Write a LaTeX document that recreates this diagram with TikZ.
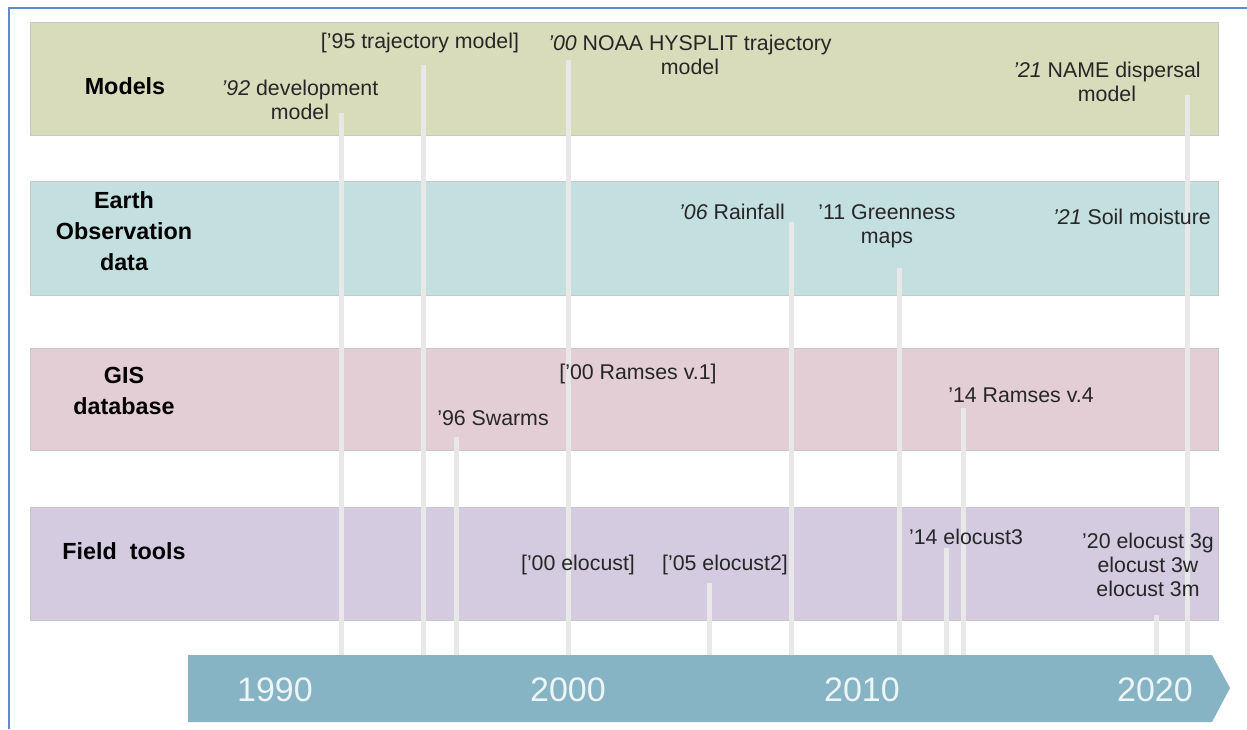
\documentclass[tikz,border=0pt]{standalone}
\usepackage{fontspec}
\setmainfont{Liberation Sans}
\definecolor{modelsfill}{RGB}{217,220,186}
\definecolor{eofill}{RGB}{195,223,224}
\definecolor{gisfill}{RGB}{227,206,213}
\definecolor{fieldfill}{RGB}{212,203,225}
\definecolor{axisfill}{RGB}{134,180,196}
\definecolor{framecol}{RGB}{90,140,214}
\begin{document}
\begin{tikzpicture}[x=0.75pt,y=-0.75pt]
% styles
\tikzset{band/.style={draw=black!22,line width=0.6pt},
  yearline/.style={draw=black!9,line width=3.75pt},
  heading/.style={font=\fontsize{17.5}{23.5}\selectfont\bfseries,align=center},
  event/.style={font=\fontsize{16}{18}\selectfont,align=center,text=black!85},
  yearlabel/.style={font=\fontsize{25.5}{30}\selectfont,text=white!86!axisfill}}
\useasboundingbox (0,0) rectangle (1247,729);

% Draw the frame
\draw[framecol,line width=1.2pt] (9,729) -- (9,8) -- (1247,8);

% Draw the bands
\foreach \ytop/\ybot/\col in {22/135/modelsfill,181/295/eofill,348/450/gisfill,507/620/fieldfill} {
\filldraw[band,fill=\col] (30,\ytop) rectangle (1218,\ybot);
}

% the time axis
\fill[axisfill] (188,655) -- (1212,655) -- (1230,688) -- (1212,722) -- (188,722) -- cycle;
\coordinate (axis) at (188,655);
\foreach \yr/\x in {1990/275,2000/568,2010/862,2020/1155} {
\node[yearlabel] (y\yr) at (\x,690) {\yr};
}

% the year lines
\foreach \name/\x/\y in {l92/341/113,l95/423/65,l96/456/437,l00/568/60,l05/709/583,
  l06/791/222,l11/899/268,l14a/946/548,l14b/963/408,l20/1156/615,l21/1187/95} {
\coordinate (\name) at (\x,\y);
\draw[yearline] (\name) -- (\name |- axis);
}

% the headings
\node[heading] (models) at (125,86) {Models};
\node[heading] (eo) at (124,231) {Earth\\Observation\\data};
\node[heading] (gis) at (124,391) {GIS\\database};
\node[heading] (field) at (124,551) {Field~~tools};

% Models
\node[event] (dev92) at (300,100) {\textit{'92} development\\model};
\node[event] (traj95) at (420,43) {['95 trajectory model]};
\node[event] (noaa00) at (690,55) {\textit{'00} NOAA HYSPLIT trajectory\\model};
\node[event] (name21) at (1107,82) {\textit{'21} NAME dispersal\\model};
% Earth Observation data
\node[event] (rain06) at (732,212) {\textit{'06} Rainfall};
\node[event] (green11) at (887,226) {'11 Greenness\\maps};
\node[event] (soil21) at (1132,217) {\textit{'21} Soil moisture};
% GIS database
\node[event] (ramses00) at (638,374) {['00 Ramses v.1]};
\node[event] (swarms96) at (493,418) {'96 Swarms};
\node[event] (ramses14) at (1021,395) {'14 Ramses v.4};
% Field tools
\node[event] (elo00) at (578,565) {['00 elocust]};
\node[event] (elo05) at (725,565) {['05 elocust2]};
\node[event] (elo14) at (966,537) {'14 elocust3};
\node[event] (elo20) at (1148,565) {'20 elocust 3g\\elocust 3w\\elocust 3m};
\end{tikzpicture}
\end{document}
